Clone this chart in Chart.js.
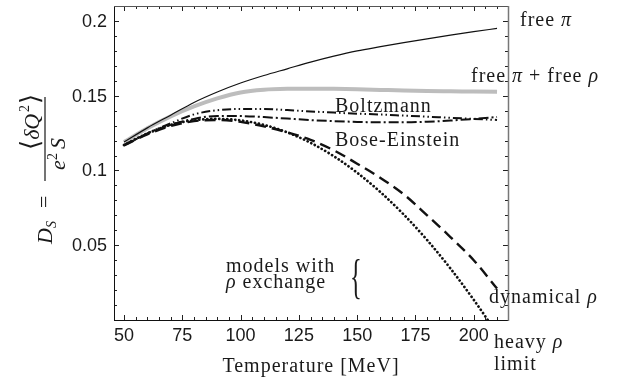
<!DOCTYPE html>
<html>
<head>
<meta charset="utf-8">
<script src="https://cdn.jsdelivr.net/npm/chart.js@4.4.0/dist/chart.umd.min.js"></script>
<style>
  html, body { margin: 0; padding: 0; background: #fff; }
  #wrap { width: 628px; height: 382px; }
</style>
</head>
<body>
<div id="wrap"><canvas id="myChart"></canvas></div>
<script>
// temperature grid in MeV
const temps = [50, 60, 70, 80, 90, 100, 110, 120, 130, 140, 150, 160, 170, 180, 190, 200, 210];

// charge fluctuation per entropy, D_S
const freePion     = [0.1190, 0.1285, 0.1370, 0.1455, 0.1525, 0.1585, 0.1635, 0.1680, 0.1725, 0.1765, 0.1800, 0.1828, 0.1855, 0.1880, 0.1905, 0.1928, 0.1950];
const freePionRho  = [0.1190, 0.1282, 0.1362, 0.1428, 0.1482, 0.1522, 0.1540, 0.1546, 0.1547, 0.1546, 0.1543, 0.1539, 0.1535, 0.1532, 0.1530, 0.1528, 0.1526];
const boltzmann    = [0.1170, 0.1248, 0.1315, 0.1375, 0.1403, 0.1411, 0.1411, 0.1404, 0.1395, 0.1387, 0.1380, 0.1374, 0.1367, 0.1360, 0.1352, 0.1345, 0.1338];
const boseEinstein = [0.1170, 0.1245, 0.1305, 0.1345, 0.1365, 0.1364, 0.1357, 0.1347, 0.1337, 0.1330, 0.1325, 0.1322, 0.1322, 0.1326, 0.1334, 0.1345, 0.1358];
const dynamicalRho = [0.1168, 0.1242, 0.1297, 0.1330, 0.1338, 0.1325, 0.1295, 0.1255, 0.1205, 0.1135, 0.1045, 0.0950, 0.0840, 0.0700, 0.0555, 0.0400, 0.0210];
const heavyRho     = [0.1170, 0.1248, 0.1305, 0.1336, 0.1345, 0.1335, 0.1305, 0.1255, 0.1185, 0.1095, 0.0985, 0.0855, 0.0705, 0.0535, 0.0345, 0.0135, -0.0090];

const xTicks = [50, 75, 100, 125, 150, 175, 200];
const yTicks = [0.05, 0.1, 0.15, 0.2];
const yTickLabels = ['0.05', '0.1', '0.15', '0.2'];

const pts = arr => temps.map((t, i) => ({x: t, y: arr[i]}));

const INK = '#1a1a1a';
const ROMAN = '20px "Liberation Serif"';
const ITALIC = 'italic 20px "Liberation Serif"';

function runs(ctx, x, y, parts) {
  for (const [text, font] of parts) {
    ctx.font = font;
    ctx.fillText(text, x, y);
    x += ctx.measureText(text).width;
  }
}

function seg(ctx, x1, y1, x2, y2) {
  ctx.beginPath();
  ctx.moveTo(x1, y1);
  ctx.lineTo(x2, y2);
  ctx.stroke();
}

// frame with inward ticks on all four sides
const frame = {
  id: 'frame',
  afterDatasetsDraw(chart) {
    const {ctx, chartArea: a, scales: {x, y}} = chart;
    ctx.save();
    ctx.lineWidth = 1;
    ctx.strokeStyle = '#222';
    for (let t = 50; t <= 210; t += 5) {
      const px = Math.round(x.getPixelForValue(t)) + 0.5;
      const major = t % 25 === 0;
      seg(ctx, px, a.bottom, px, a.bottom - (major ? 5 : 3));
      seg(ctx, px, a.top, px, a.top + (major ? 5 : 3));
    }
    for (let k = 1; k <= 20; k++) {
      const v = k / 100;
      const py = Math.round(y.getPixelForValue(v)) + 0.5;
      const major = k % 5 === 0;
      seg(ctx, a.left, py, a.left + (major ? 5 : 3), py);
      seg(ctx, a.right, py, a.right - (major ? 5 : 3), py);
    }
    ctx.strokeStyle = '#111';
    seg(ctx, a.left + 0.5, a.top, a.left + 0.5, a.bottom + 1);
    seg(ctx, a.left, a.bottom + 0.5, a.right, a.bottom + 0.5);
    ctx.strokeStyle = '#555';
    seg(ctx, a.left, a.top + 0.5, a.right, a.top + 0.5);
    ctx.strokeStyle = '#777';
    ctx.lineWidth = 1.5;
    seg(ctx, a.right + 0.5, a.top, a.right + 0.5, a.bottom + 1);

    // tick labels
    ctx.fillStyle = INK;
    ctx.font = '18px "Liberation Sans"';
    ctx.textAlign = 'center';
    ctx.textBaseline = 'alphabetic';
    xTicks.forEach(t => ctx.fillText(String(t), x.getPixelForValue(t), a.bottom + 21));
    ctx.textAlign = 'right';
    ctx.textBaseline = 'middle';
    yTicks.forEach((v, i) => ctx.fillText(yTickLabels[i], a.left - 7, y.getPixelForValue(v) + 1));
    ctx.restore();
  }
};

// curve names, axis titles
const notes = {
  id: 'notes',
  afterDraw(chart) {
    const ctx = chart.ctx;
    ctx.save();
    ctx.fillStyle = INK;
    ctx.textAlign = 'left';
    ctx.textBaseline = 'alphabetic';
    ctx.letterSpacing = '1px';
    runs(ctx, 520, 26, [['free ', ROMAN], ['\u03c0', ITALIC]]);
    runs(ctx, 471, 82, [['free ', ROMAN], ['\u03c0', ITALIC], [' + free ', ROMAN], ['\u03c1', ITALIC]]);
    runs(ctx, 335, 112, [['Boltzmann', ROMAN]]);
    runs(ctx, 335, 146, [['Bose-Einstein', ROMAN]]);
    runs(ctx, 226, 272, [['models with', ROMAN]]);
    runs(ctx, 226, 288, [['\u03c1', ITALIC], [' exchange', ROMAN]]);
    runs(ctx, 489, 303, [['dynamical ', ROMAN], ['\u03c1', ITALIC]]);
    runs(ctx, 494, 348, [['heavy ', ROMAN], ['\u03c1', ITALIC]]);
    runs(ctx, 494, 370, [['limit', ROMAN]]);

    ctx.textAlign = 'center';
    ctx.font = ROMAN;
    ctx.fillText('Temperature [MeV]', 311, 372);

    // curly brace next to the two model names
    ctx.save();
    ctx.letterSpacing = '0px';
    ctx.translate(356, 293);
    ctx.scale(0.5, 1);
    ctx.font = '49px "Liberation Serif"';
    ctx.fillText('{', 0, 0);
    ctx.restore();

    // D_S = <dQ^2> / (e^2 S), rotated
    ctx.letterSpacing = '0px';
    ctx.translate(45, 170);
    ctx.rotate(-Math.PI / 2);
    ctx.textAlign = 'left';
    runs(ctx, -74, 7, [['D', 'italic 22px "Liberation Serif"']]);
    runs(ctx, -58, 11, [['S', 'italic 14px "Liberation Serif"']]);
    runs(ctx, -38, 6, [['=', '22px "Liberation Serif"']]);
    ctx.fillRect(-11, -0.6, 84, 1.2);
    runs(ctx, 20, -6, [['\u27e8', '26px "DejaVu Serif"'], ['\u03b4', 'italic 22px "Liberation Serif"'], ['Q', 'italic 22px "Liberation Serif"']]);
    runs(ctx, 58, -16, [['2', '14px "Liberation Serif"']]);
    runs(ctx, 66, -6, [['\u27e9', '26px "DejaVu Serif"']]);
    runs(ctx, 0, 20, [['e', 'italic 22px "Liberation Serif"']]);
    runs(ctx, 10, 12, [['2', '14px "Liberation Serif"']]);
    runs(ctx, 21, 20, [['S', 'italic 22px "Liberation Serif"']]);
    ctx.restore();
  }
};

const data = {
  datasets: [
    {label: 'heavy rho limit', data: pts(heavyRho), borderColor: '#111', borderWidth: 2.7, borderDash: [0.1, 3.9], borderCapStyle: 'round'},
    {label: 'dynamical rho', data: pts(dynamicalRho), borderColor: '#111', borderWidth: 2.4, borderDash: [11, 6]},
    {label: 'Bose-Einstein', data: pts(boseEinstein), borderColor: '#111', borderWidth: 2, borderDash: [10, 3, 2, 3]},
    {label: 'Boltzmann', data: pts(boltzmann), borderColor: '#111', borderWidth: 2, borderDash: [9, 3, 1.5, 3, 1.5, 3]},
    {label: 'free pi', data: pts(freePion), borderColor: '#111', borderWidth: 1.2},
    {label: 'free pi + free rho', data: pts(freePionRho), borderColor: '#bdbdbd', borderWidth: 4}
  ]
};

const config = {
  type: 'line',
  data: data,
  options: {
    responsive: true,
    maintainAspectRatio: false,
    animation: false,
    layout: {padding: {left: 114, right: 120, top: 6, bottom: 62}},
    elements: {
      point: {radius: 0},
      line: {cubicInterpolationMode: 'monotone', fill: false}
    },
    scales: {
      x: {type: 'linear', min: 45.7, max: 214.7, display: false},
      y: {min: 0, max: 0.21, display: false}
    },
    plugins: {legend: {display: false}, tooltip: {enabled: false}}
  },
  plugins: [frame, notes]
};

const myChart = new Chart(document.getElementById('myChart'), config);
</script>
</body>
</html>
